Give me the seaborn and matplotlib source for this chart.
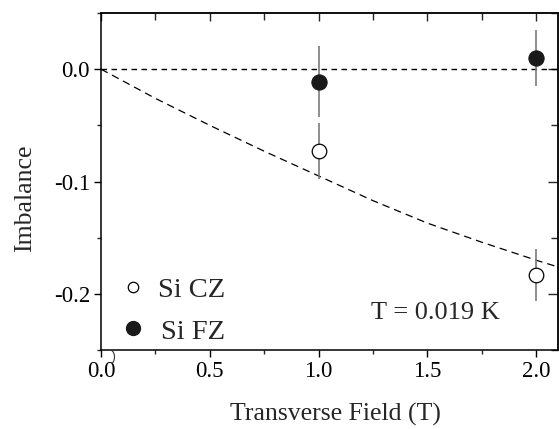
import matplotlib
matplotlib.use("Agg")
import matplotlib.pyplot as plt
import seaborn as sns
import pandas as pd
from matplotlib.ticker import MultipleLocator, FormatStrFormatter
from matplotlib.patches import Arc
from matplotlib.transforms import IdentityTransform

# ---- data ----
field_cz = [1.0, 2.0]
imb_cz = [-0.073, -0.183]
err_cz = [0.025, 0.023]

field_fz = [1.0, 2.0]
imb_fz = [-0.011, 0.010]
err_fz = [0.032, 0.025]

curve_x = [0.0, 0.25, 0.5, 0.75, 1.0, 1.25, 1.5, 1.75, 2.0, 2.1]
curve_y = [0.0, -0.026, -0.050, -0.073, -0.095, -0.117, -0.137, -0.154, -0.170, -0.176]

legend_labels = ["Si CZ", "Si FZ"]
annotation = "T = 0.019 K"
xlabel = "Transverse Field (T)"
ylabel = "Imbalance"

sns.set_theme(style="white")
plt.rcParams["font.family"] = ["Liberation Serif", "DejaVu Serif"]

fig = plt.figure(figsize=(5.59, 4.29), dpi=100)
ax = fig.add_axes([0.1807, 0.184, 0.8173, 0.7857])

df_curve = pd.DataFrame({"x": curve_x, "y": curve_y})
df_cz = pd.DataFrame({"x": field_cz, "y": imb_cz})
df_fz = pd.DataFrame({"x": field_fz, "y": imb_fz})

ax.axhline(0.0, color="black", lw=1.0, ls=(0, (4, 3.2)), zorder=1)
sns.lineplot(data=df_curve, x="x", y="y", ax=ax, color="black", lw=0.9,
             linestyle=(0, (6, 4)), zorder=1)

ax.errorbar(field_cz, imb_cz, yerr=err_cz, fmt="none", ecolor="#7a7a7a",
            elinewidth=1.2, capsize=0, zorder=2)
ax.errorbar(field_fz, imb_fz, yerr=err_fz, fmt="none", ecolor="#7a7a7a",
            elinewidth=1.2, capsize=0, zorder=2)

sns.scatterplot(data=df_cz, x="x", y="y", ax=ax, s=110, marker="o",
                facecolor="white", edgecolor="black", linewidth=0.9, zorder=3)
sns.scatterplot(data=df_fz, x="x", y="y", ax=ax, s=120, marker="o",
                color="#1a1a1a", edgecolor="#1a1a1a", linewidth=0.8, zorder=3)

ax.set_xlim(0, 2.1)
ax.set_ylim(-0.25, 0.05)
ax.xaxis.set_major_locator(MultipleLocator(0.5))
ax.xaxis.set_minor_locator(MultipleLocator(0.25))
ax.yaxis.set_major_locator(MultipleLocator(0.1))
ax.yaxis.set_minor_locator(MultipleLocator(0.05))
ax.xaxis.set_major_formatter(FormatStrFormatter("%.1f"))
ax.yaxis.set_major_formatter(FormatStrFormatter("%.1f"))

for s in ax.spines.values():
    s.set_visible(True)
    s.set_color("black")
    s.set_linewidth(1.1)

ax.tick_params(which="major", direction="out", length=5, width=1.0,
               labelsize=16.5, colors="black", pad=3, bottom=True, left=True)
ax.tick_params(which="minor", direction="out", length=3, width=1.0,
               bottom=True, left=True)

secx = ax.secondary_xaxis("top")
secx.xaxis.set_major_locator(MultipleLocator(0.5))
secx.xaxis.set_minor_locator(MultipleLocator(0.25))
secx.tick_params(which="major", direction="in", length=6, width=1.0, labeltop=False)
secx.tick_params(which="minor", direction="in", length=5, width=1.0)
secx.spines["top"].set_linewidth(1.1)

secy = ax.secondary_yaxis("right")
secy.yaxis.set_major_locator(MultipleLocator(0.1))
secy.yaxis.set_minor_locator(MultipleLocator(0.05))
secy.tick_params(which="major", direction="in", length=7, width=1.0, labelright=False)
secy.tick_params(which="minor", direction="in", length=5, width=1.0)
secy.spines["right"].set_linewidth(1.1)

ax.set_xlabel(xlabel, fontsize=18.5, va="center")
ax.xaxis.set_label_coords(0.514, -0.190)
ax.set_ylabel(ylabel, fontsize=18.5, va="center")
ax.yaxis.set_label_coords(-0.166, 0.451)

# legend (manual, in axes coordinates)
ax.plot([0.070], [0.188], transform=ax.transAxes, ls="none", marker="o",
        markersize=7.5, markerfacecolor="white", markeredgecolor="black",
        markeredgewidth=0.9, clip_on=False)
ax.plot([0.070], [0.064], transform=ax.transAxes, ls="none", marker="o",
        markersize=10, markerfacecolor="#1a1a1a", markeredgecolor="#1a1a1a",
        clip_on=False)
ax.text(0.125, 0.158, legend_labels[0], transform=ax.transAxes, fontsize=20.5,
        ha="left", va="baseline")
ax.text(0.131, 0.033, legend_labels[1], transform=ax.transAxes, fontsize=20.5,
        ha="left", va="baseline")

ax.text(1.242, -0.2224, annotation, fontsize=19, ha="left", va="baseline")

# small stray arc below the origin seen in the reference
arc = Arc((110, 72), 9, 14, theta1=-80, theta2=80, transform=IdentityTransform(),
          color="#333333", lw=0.8)
fig.add_artist(arc)

fig.savefig("out.png", dpi=100)
